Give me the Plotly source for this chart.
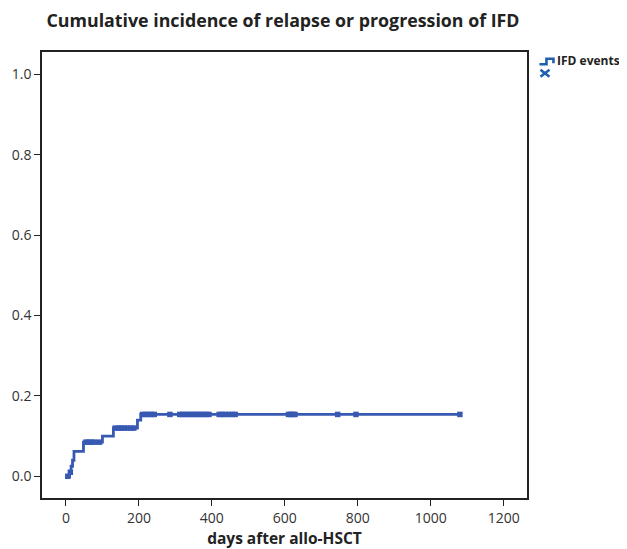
import numpy as np
import plotly.graph_objects as go

# Step function (event times in days, cumulative incidence)
event_days = [0, 10, 14, 18, 22, 48, 100, 130, 196, 205, 1080]
cum_inc = [0.0, 0.01, 0.025, 0.04, 0.062, 0.085, 0.10, 0.12, 0.14, 0.154, 0.154]

# Censored observations (days)
censor_days = [5, 12, 55, 62, 70, 78, 92, 135, 145, 152, 160, 168, 178, 186,
               210, 218, 226, 234, 242, 285, 312, 320, 328, 336, 344, 352, 360,
               368, 376, 384, 392, 420, 428, 436, 446, 456, 464,
               610, 616, 622, 628, 745, 795, 1080]

x_ticks = [0, 200, 400, 600, 800, 1000, 1200]
y_ticks = [0.0, 0.2, 0.4, 0.6, 0.8, 1.0]

color = "#3859b2"

idx = np.searchsorted(event_days, censor_days, side="right") - 1
censor_vals = [cum_inc[i] for i in idx]

fig = go.Figure()
fig.add_trace(go.Scatter(x=event_days, y=cum_inc, mode="lines",
                         line=dict(color=color, width=2.8, shape="hv"),
                         showlegend=False))
fig.add_trace(go.Scatter(x=censor_days, y=censor_vals, mode="markers",
                         marker=dict(symbol="square", size=5.5, color=color),
                         showlegend=False))

OFF = 8  # default page body margin
W, H = 627 - OFF, 549 - OFF
L, R, T, B = 41.7 - OFF, 527.5 - OFF, 51.7 - OFF, 498.3 - OFF

def px(x):
    return (x - OFF - L) / (R - L)
def py(y):
    return (B - (y - OFF)) / (B - T)

icon = "#1f5fb0"
shapes = [
    dict(type="path", xref="paper", yref="paper",
         path=f"M {px(540)} {py(64)} L {px(547)} {py(64)} L {px(547)} {py(58.5)} L {px(554)} {py(58.5)} L {px(554)} {py(63)}",
         line=dict(color=icon, width=2.6)),
    dict(type="line", xref="paper", yref="paper", x0=px(541), y0=py(69.5), x1=px(550), y1=py(76.5),
         line=dict(color=icon, width=2.6)),
    dict(type="line", xref="paper", yref="paper", x0=px(541), y0=py(76.5), x1=px(550), y1=py(69.5),
         line=dict(color=icon, width=2.6)),
]

annotations = [
    dict(text="<b>IFD events</b>", xref="paper", yref="paper", x=px(556), y=py(60),
         xanchor="left", yanchor="middle", showarrow=False,
         font=dict(size=12, color="#222", family="Open Sans")),
]

fig.update_layout(
    width=W, height=H,
    margin=dict(l=L, r=W - R, t=T, b=H - B),
    paper_bgcolor="white", plot_bgcolor="white",
    title=dict(text="<b>Cumulative incidence of relapse or progression of IFD</b>",
               x=(283 - OFF) / W, xanchor="center", y=1 - (21 - OFF) / H, yanchor="middle",
               font=dict(size=17.8, color="#222", family="Open Sans")),
    xaxis=dict(range=[-65.7, 1264], tickvals=x_ticks, ticks="outside", ticklen=6,
               tickcolor="#222", showline=True, linecolor="#222", linewidth=1.5, mirror=True,
               showgrid=False, zeroline=False, automargin=False,
               tickfont=dict(size=14, color="#333", family="Open Sans"),
               title=dict(text="<b>days after allo-HSCT</b>", standoff=4,
                          font=dict(size=15.5, color="#222", family="Open Sans"))),
    yaxis=dict(range=[-0.054, 1.056], tickvals=y_ticks, tickformat=".1f", ticks="outside",
               ticklen=6, tickcolor="#222", showline=True, linecolor="#222", linewidth=1.5,
               mirror=True, showgrid=False, zeroline=False, automargin=False,
               tickfont=dict(size=14, color="#333", family="Open Sans")),
    shapes=shapes, annotations=annotations,
)

fig.write_html("out.html")
